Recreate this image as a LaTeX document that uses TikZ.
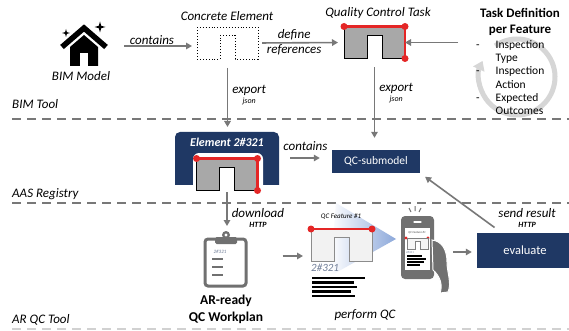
\documentclass[tikz,border=0pt]{standalone}
\usepackage{fontspec}
\setmainfont{Carlito}
\usetikzlibrary{arrows.meta, positioning, calc}

\definecolor{navy}{RGB}{31,56,100}
\definecolor{linegray}{RGB}{120,120,120}
\definecolor{slabgray}{RGB}{168,168,168}
\definecolor{markred}{RGB}{228,38,38}
\definecolor{icongray}{RGB}{112,112,112}
\definecolor{cyclegray}{RGB}{214,214,214}
\definecolor{conecol}{RGB}{140,168,218}
\definecolor{tagblue}{RGB}{112,126,152}

\begin{document}
\begin{tikzpicture}[
  x=1pt, y=-1pt,
  flow/.style    = {-{Triangle[length=6pt,width=6.5pt]}, line width=1.6pt, draw=linegray},
  lbl/.style     = {font=\fontsize{13}{14}\selectfont\itshape,
                    align=center, inner sep=1pt},
  title/.style   = {font=\fontsize{13}{14}\selectfont\itshape, inner sep=1pt},
  lane/.style    = {font=\fontsize{13}{14}\selectfont\itshape,
                    anchor=west, inner sep=0pt},
  divider/.style = {draw=linegray, line width=1.8pt, dash pattern=on 9pt off 6pt},
  area/.style    = {inner sep=0pt, outer sep=0pt},
  navybox/.style = {fill=navy, text=white, inner sep=0pt},
  bold/.style    = {font=\fontsize{13.5}{17}\selectfont\bfseries, align=center},
  % element outline with the notch from below
  slab/.pic      = {\path[pic actions] (0,0) -- (61,0) -- (61,32) -- (38,32)
                      -- (38,8.5) -- (23,8.5) -- (23,32) -- (0,32) -- cycle;},
  % reference edges in red
  refmark/.pic   = {\draw[markred, line width=2.2pt] (0,0) -- (61,0) -- (61,32);
                    \foreach \p in {(0,0),(61,0),(61,32)}
                      \fill[markred] \p circle (3.5);},
  topmark/.pic   = {\draw[markred, line width=2.2pt] (0,0) -- (61,0);
                    \foreach \p in {(0,0),(61,0)}
                      \fill[markred] \p circle (3.5);},
  sparkle/.pic   = {\fill (0,-#1) -- ({0.22*#1},{-0.22*#1}) -- (#1,0)
                      -- ({0.22*#1},{0.22*#1}) -- (0,#1) -- ({-0.22*#1},{0.22*#1})
                      -- (-#1,0) -- ({-0.22*#1},{-0.22*#1}) -- cycle;}
]
\useasboundingbox (0,0) rectangle (569,331);
\fill[white] (0,0) rectangle (569,331);

%── Lanes ─────────────────────────────────────────────────────────────────
\draw[divider] (12,119) -- (569,119);
\draw[divider] (12,203) -- (569,203);
\draw[divider, draw=black!18] (12,329) -- (569,329);

\node[lane] (lanebim) at (12,104) {BIM Tool};
\node[lane] (laneaas) at (12,194) {AAS Registry};
\node[lane] (lanear)  at (12,320) {AR QC Tool};

%── BIM model ─────────────────────────────────────────────────────────────
\node[area, minimum width=44pt, minimum height=42pt] (bimicon) at (85,46) {};
\draw[line width=5.5pt] (62,47) -- (84,28) -- (106,47);
\fill (70,47) -- (84,35) -- (98,47) -- (98,66) -- (70,66) -- cycle;
\fill[white] (80,53) rectangle (88,66);
\pic at (66,33) {sparkle=4};
\pic at (100,27) {sparkle=5.5};
\node[title] (bimlbl) at (81,76) {BIM Model};

%── Concrete element / QC task ────────────────────────────────────────────
\node[area, minimum width=61pt, minimum height=32pt] (concrete) at (227.5,43) {};
\pic[draw, dotted, line width=0.9pt] at (concrete.north west) {slab};
\node[title] (concretelbl) at (227,16) {Concrete Element};

\node[area, minimum width=61pt, minimum height=32pt] (qctask) at (374.5,42.5) {};
\pic[draw=black, fill=slabgray, line width=0.9pt] at (qctask.north west) {slab};
\pic at (qctask.north west) {refmark};
\node[title] (qctasklbl) at (378,13) {Quality Control Task};

%── Task definition ───────────────────────────────────────────────────────
\node[font=\fontsize{13}{16}\selectfont\bfseries, align=center] (taskdef)
  at (520,22) {Task Definition\\per Feature};
\draw[cyclegray, line width=5pt, -{Triangle[length=9pt,width=12pt]}]
  (517,77) ++(-125:38) arc[start angle=-125, end angle=205, radius=38];
\node[anchor=north west, inner sep=0pt, font=\fontsize{11.5}{13.2}\selectfont]
  (tasklist) at (476,39)
  {\begin{tabular}{@{}l@{\hspace{16pt}}l@{}}
   - & Inspection\\ & Type\\
   - & Inspection\\ & Action\\
   - & Expected\\  & Outcomes
   \end{tabular}};

%── AAS element ───────────────────────────────────────────────────────────
\node[area, minimum width=104pt, minimum height=52pt] (elem) at (227,158) {};
\begin{scope}
  \clip (175,132) rectangle (279,184);
  \fill[navy, rounded corners=5pt] (175,132) rectangle (279,196);
  \fill[white, rounded corners=6pt] (193,153) rectangle (263,200);
\end{scope}
\node[font=\fontsize{12}{14}\selectfont\bfseries\itshape, text=white] (elemlbl)
  at (227,142) {Element 2\#321};
\pic[draw=black, fill=slabgray, line width=0.9pt] at (196.5,158.5) {slab};
\pic at (196.5,158.5) {refmark};

\node[navybox, minimum width=88pt, minimum height=23pt,
      font=\fontsize{11.5}{13}\selectfont] (qcsub) at (376,161.5) {QC-submodel};

%── Workplan ──────────────────────────────────────────────────────────────
\node[area, minimum width=43pt, minimum height=54pt] (clip) at (226,260) {};
\draw[icongray, line width=3pt, rounded corners=3pt] (205,239) rectangle (246,286);
\fill[icongray] (226,235) circle (4);
\fill[icongray, rounded corners=1.5pt] (215,237) rectangle (237,244);
\fill[white] (226,235) circle (1.6);
\node[font=\fontsize{5}{5}\selectfont\itshape, text=tagblue] (cliptag) at (220,252) {2\#321};
\foreach \y in {259,267,275}
  \draw[icongray, line width=2.2pt] (212,\y) -- (223,\y);
\node[bold] (workplan) at (226,309) {AR-ready\\QC Workplan};

%── Inspection on site ────────────────────────────────────────────────────
\shade[left color=white, right color=conecol] (336,203) -- (396,239) -- (330,276) -- cycle;
\node[area, minimum width=61pt, minimum height=31pt] (feature) at (341.5,244.5) {};
\pic[draw=black!45, fill=black!5, line width=1pt] at (feature.north west) {slab};
\pic at (feature.north west) {topmark};
\node[font=\fontsize{7}{8}\selectfont\itshape] (featurelbl) at (341,217) {QC Feature \#1};
\node[font=\fontsize{11}{12}\selectfont\itshape, text=tagblue, anchor=west, inner sep=0pt]
  (featuretag) at (311,268) {2\#321};
\foreach \y/\len in {278/53, 282.5/42, 287/45, 291.5/39, 296/43}
  \draw[line width=2.6pt] (312,\y) -- ++(\len,0);
\node[title] (performlbl) at (365,315) {perform QC};

% phone in hand
\node[area, minimum width=52pt, minimum height=84pt] (phone) at (426,252) {};
\fill[icongray, rounded corners=4pt] (401,216) rectangle (434,279);
\fill[white] (405,228) rectangle (430,270);
\draw[white, line width=1.2pt, line cap=round] (414,222) -- (421,222);
\draw[icongray, line width=1pt] (411,212) -- (409,208) (415,211) -- (415,206)
  (419,212) -- (421,208);
\fill[icongray, draw=white, line width=1pt] (432,240) .. controls (442,241) and (447,250) .. (447,262)
  .. controls (447,273) and (452,283) .. (448,292) -- (440,293)
  .. controls (443,285) and (440,276) .. (433,270) -- cycle;
\node[font=\fontsize{3}{3}\selectfont\itshape, text=black!70] (screenlbl) at (417,233) {QC Feature \#1};
\draw[markred, line width=1pt] (406,238) -- (428,238);
\fill[markred] (406,238) circle (1.6) (428,238) circle (1.6);
\pic[draw=black!50, fill=black!4, line width=0.4pt, scale=0.34] at (407,238.5) {slab};
\node[font=\fontsize{3}{3}\selectfont\itshape, text=tagblue, anchor=west, inner sep=0pt]
  (screentag) at (406,252) {2\#321};
\foreach \y/\len in {256/15, 259/19, 262/17, 265/13}
  \draw[line width=1.5pt] (407,\y) -- ++(\len,0);

\node[navybox, minimum width=96pt, minimum height=35pt,
      font=\fontsize{12.5}{14}\selectfont] (evaluate) at (525,250.5) {evaluate};

%── Arrows ────────────────────────────────────────────────────────────────
\draw[flow, shorten <=17pt, shorten >=5pt] (bimicon.east) --
  node[lbl, above] {contains}
  (bimicon.east -| concrete.west);

\draw[flow, shorten <=4pt, shorten >=6pt] (concrete.east) --
  node[lbl, above, pos=0.42, yshift=1pt] {define}
  node[lbl, below, pos=0.42] {references}
  (qctask.west);

\draw[flow, shorten <=9pt, shorten >=5pt] (concrete.south) --
  node[lbl, right, xshift=3pt] {export\\[-4pt]{\fontsize{8}{9}\selectfont json}}
  (concrete.south |- elem.north);

\draw[flow, shorten <=7pt] ([xshift=-11pt]tasklist.west |- qctask.east) -- (qctask.east);

\draw[flow, shorten <=9pt, shorten >=12pt] (qctask.south) --
  node[lbl, right, pos=0.38, xshift=3pt] {export\\[-4pt]{\fontsize{8}{9}\selectfont json}}
  (qctask.south |- qcsub.north);

\draw[flow, shorten <=11pt, shorten >=12pt] (elem.east) --
  node[lbl, above, yshift=6pt] {contains}
  (elem.east -| qcsub.west);

\draw[flow, shorten <=8pt, shorten >=7pt] (elem.south) --
  node[lbl, right, pos=0.7, xshift=3pt]
    {download\\[-4pt]{\fontsize{8}{9}\selectfont\bfseries HTTP}}
  (elem.south |- clip.north);

\draw[flow, shorten <=35pt, shorten >=8pt] ([yshift=4pt]clip.east) --
  ([yshift=4pt]clip.east -| feature.west);

\draw[flow, shorten <=1pt, shorten >=5pt] (phone.east) -- (phone.east -| evaluate.west);

\draw[flow, shorten <=9pt, shorten >=6pt] ([xshift=25pt]evaluate.north west) --
  node[lbl, pos=0.1, anchor=west, xshift=3pt, yshift=9pt]
    {send result\\[-4pt]{\fontsize{8}{9}\selectfont\bfseries HTTP}}
  (qcsub.south east);

\end{tikzpicture}
\end{document}
